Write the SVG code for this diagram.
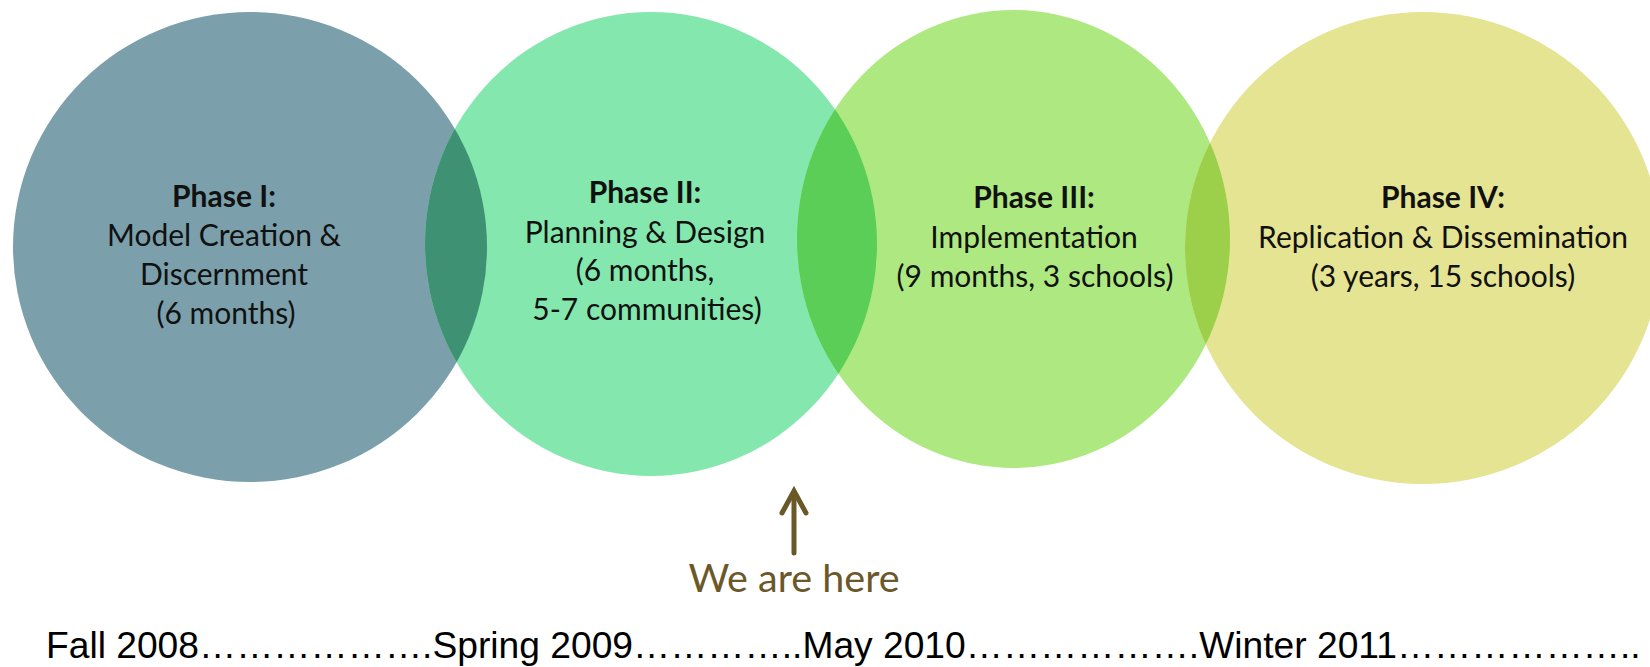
<svg xmlns="http://www.w3.org/2000/svg" width="1650" height="667" viewBox="0 0 1650 667">
<style>
.lbl{font-family:Lato,"Open Sans","Liberation Sans",sans-serif;font-size:30px;fill:#111;text-anchor:middle}
.ttl{font-weight:bold}
.here{font-family:Lato,"Open Sans","Liberation Sans",sans-serif;font-size:39.5px;fill:#6B5829;text-anchor:middle}
.time{font-family:"Liberation Sans",Arial,sans-serif;font-size:37.2px;fill:#000}
.arr{fill:none;stroke:#6B5829;stroke-width:5;stroke-linecap:round;stroke-linejoin:miter}
</style>
<defs>
<clipPath id="c1"><ellipse cx="250" cy="247" rx="237" ry="235"/></clipPath>
<clipPath id="c2"><ellipse cx="651" cy="244" rx="226" ry="232"/></clipPath>
<clipPath id="c3"><ellipse cx="1013.5" cy="239" rx="216.5" ry="229"/></clipPath>
</defs>
<rect width="1650" height="667" fill="#fff"/>
<g id="phase1">
<ellipse cx="250" cy="247" rx="237" ry="235" fill="#7BA0AB"/>
</g>
<g id="phase2">
<ellipse cx="651" cy="244" rx="226" ry="232" fill="#84E7AD"/>
<ellipse cx="651" cy="244" rx="226" ry="232" fill="#3E9273" clip-path="url(#c1)"/>
</g>
<g id="phase3">
<ellipse cx="1013.5" cy="239" rx="216.5" ry="229" fill="#AEE880"/>
<ellipse cx="1013.5" cy="239" rx="216.5" ry="229" fill="#5BCE58" clip-path="url(#c2)"/>
</g>
<g id="phase4">
<ellipse cx="1423" cy="248" rx="238" ry="236" fill="#E4E493"/>
<ellipse cx="1423" cy="248" rx="238" ry="236" fill="#9DD04A" clip-path="url(#c3)"/>
</g>
<g id="phase1-text">
<text x="224" y="207" class="lbl ttl">Phase I:</text>
<text x="224" y="246" class="lbl">Model Creation &amp;</text>
<text x="224" y="285" class="lbl">Discernment</text>
<text x="226" y="324" class="lbl">(6 months)</text>
</g>
<g id="phase2-text">
<text x="645" y="203" class="lbl ttl">Phase II:</text>
<text x="645" y="243" class="lbl">Planning &amp; Design</text>
<text x="645" y="281" class="lbl">(6 months,</text>
<text x="647" y="320" class="lbl">5-7 communities)</text>
</g>
<g id="phase3-text">
<text x="1034" y="208" class="lbl ttl">Phase III:</text>
<text x="1034" y="248" class="lbl">Implementation</text>
<text x="1035" y="287" class="lbl">(9 months, 3 schools)</text>
</g>
<g id="phase4-text">
<text x="1443" y="208" class="lbl ttl">Phase IV:</text>
<text x="1443" y="248" class="lbl">Replication &amp; Dissemination</text>
<text x="1443" y="287" class="lbl">(3 years, 15 schools)</text>
</g>
<g id="connectors">
<line x1="794" y1="553" x2="794" y2="494" class="arr"/>
<polyline points="782,513 794,491 806,513" class="arr"/>
</g>
<g id="marker-label">
<text x="794" y="592" class="here">We are here</text>
</g>
<g id="timeline">
<text x="46" y="658" class="time">Fall 2008&#8230;&#8230;&#8230;&#8230;&#8230;&#8230;.Spring 2009&#8230;&#8230;&#8230;&#8230;..May 2010&#8230;&#8230;&#8230;&#8230;&#8230;&#8230;.Winter 2011&#8230;&#8230;&#8230;&#8230;&#8230;&#8230;..</text>
</g>
</svg>
